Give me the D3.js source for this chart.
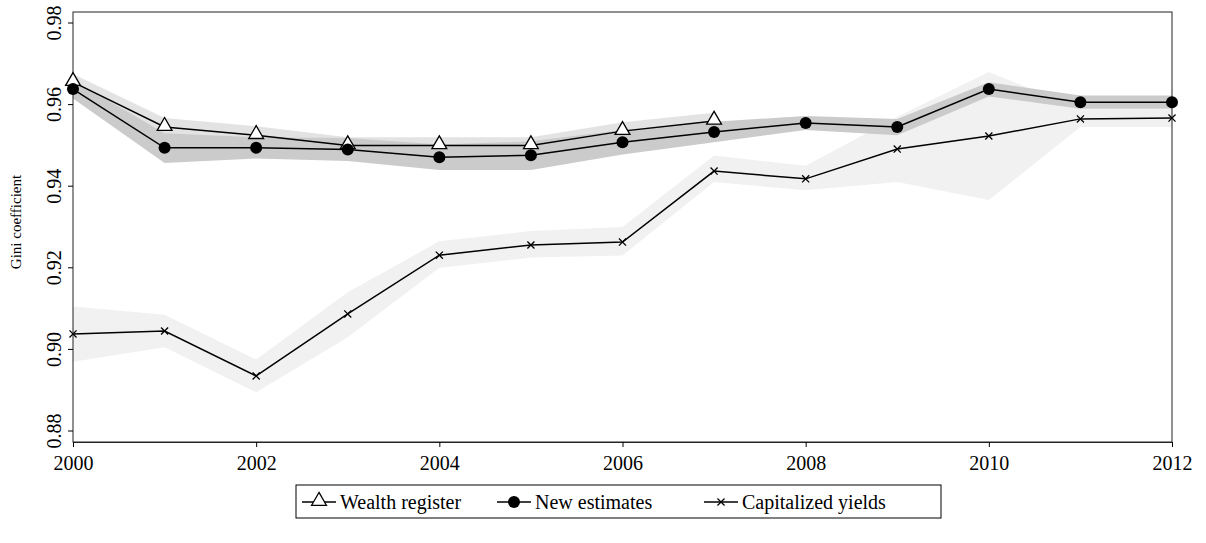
<!DOCTYPE html>
<html><head><meta charset="utf-8">
<script src="https://cdn.jsdelivr.net/npm/d3@7"></script>
<style>body{margin:0;background:#fff}svg text{font-family:"Liberation Serif","DejaVu Serif",serif !important}</style>
</head><body><div id="chart"></div>
<script>
const years = d3.range(2000, 2013);
const wealthYears = d3.range(2000, 2008);
const wealth = [0.9655,0.9545,0.9525,0.9500,0.9500,0.9500,0.9535,0.9560];
const wealthLo = [0.9635,0.9525,0.9505,0.9482,0.9482,0.9482,0.9515,0.9540];
const wealthHi = [0.9675,0.9567,0.9547,0.9520,0.9520,0.9520,0.9557,0.9580];
const newEst = [0.9638,0.9494,0.9494,0.9490,0.9471,0.9476,0.9508,0.9533,0.9555,0.9545,0.9638,0.9606,0.9606];
const newLo = [0.9615,0.9457,0.9468,0.9462,0.9440,0.9440,0.9478,0.9508,0.9538,0.9525,0.9620,0.9590,0.9590];
const newHi = [0.9660,0.9530,0.9520,0.9518,0.9502,0.9510,0.9538,0.9558,0.9572,0.9565,0.9655,0.9622,0.9622];
const capYield = [0.9038,0.9045,0.8935,0.9087,0.9231,0.9256,0.9263,0.9437,0.9418,0.9491,0.9523,0.9565,0.9567];
const capLo = [0.8970,0.9005,0.8895,0.9030,0.9200,0.9225,0.9230,0.9410,0.9390,0.9410,0.9366,0.9545,0.9545];
const capHi = [0.9105,0.9085,0.8975,0.9140,0.9265,0.9290,0.9300,0.9475,0.9450,0.9570,0.9680,0.9590,0.9590];
const yTicks = [0.88,0.90,0.92,0.94,0.96,0.98];
const xTicks = [2000,2002,2004,2006,2008,2010,2012];

const W = 1206, H = 543;
const svg = d3.select("#chart").append("svg").attr("width", W).attr("height", H);
const x = d3.scaleLinear().domain([2000, 2012]).range([73, 1172]);
const y = d3.scaleLinear().domain([0.88, 0.98]).range([431, 23]);
const plotTop = 12, plotBottom = 442;

const area = (xs, lo, hi) => d3.area().x((d, i) => x(xs[i])).y0((d, i) => y(lo[i])).y1((d, i) => y(hi[i]))(xs);
const line = (xs, v) => d3.line().x((d, i) => x(xs[i])).y((d, i) => y(v[i]))(xs);

svg.append("path").attr("d", area(years, capLo, capHi)).attr("fill", "#f1f1f1");
svg.append("path").attr("d", area(wealthYears, wealthLo, wealthHi)).attr("fill", "#e3e3e3");
svg.append("path").attr("d", area(years, newLo, newHi)).attr("fill", "#cbcbcb");

svg.append("rect").attr("x", 73).attr("y", plotTop).attr("width", 1172 - 73).attr("height", plotBottom - plotTop)
  .attr("fill", "none").attr("stroke", "#222").attr("stroke-width", 1);

const serif = "Liberation Serif, DejaVu Serif, serif";
const xAxis = svg.append("g").attr("transform", `translate(0,${plotBottom})`)
  .call(d3.axisBottom(x).tickValues(xTicks).tickFormat(d3.format("d")).tickSize(5))
  .attr("font-family", serif).attr("font-size", 20);
xAxis.select(".domain").attr("stroke", "#222");
xAxis.selectAll("text").attr("fill", "#000").attr("dy", "1em").attr("font-family", serif);

const yAxis = svg.append("g").attr("transform", "translate(73,0)")
  .call(d3.axisLeft(y).tickValues(yTicks).tickFormat(d3.format(".2f")).tickSize(5))
  .attr("font-family", serif).attr("font-size", 20);
yAxis.select(".domain").remove();
yAxis.selectAll(".tick").attr("transform", null);
yAxis.selectAll(".tick line").attr("y1", d => y(d)).attr("y2", d => y(d));
yAxis.selectAll("text").attr("fill", "#000").attr("font-family", serif)
  .attr("text-anchor", "middle").attr("x", 0).attr("y", 0).attr("dy", 0)
  .attr("transform", d => `translate(-12,${y(d)}) rotate(-90)`);

svg.append("text").attr("transform", "translate(21,222) rotate(-90)").attr("text-anchor", "middle")
  .attr("font-size", 15).text("Gini coefficient");

svg.append("path").attr("d", line(years, capYield)).attr("fill", "none").attr("stroke", "#000").attr("stroke-width", 1.5);
svg.append("path").attr("d", line(wealthYears, wealth)).attr("fill", "none").attr("stroke", "#000").attr("stroke-width", 1.5);
svg.append("path").attr("d", line(years, newEst)).attr("fill", "none").attr("stroke", "#000").attr("stroke-width", 1.5);

const tri = d3.symbol().type(d3.symbolTriangle).size(95);
const crossPath = "M-5,0H5M0,-5V5";
capYield.forEach((v, i) => svg.append("path").attr("d", crossPath)
  .attr("transform", `translate(${x(years[i])},${y(v)}) rotate(45)`)
  .attr("fill", "none").attr("stroke", "#000").attr("stroke-width", 1.3));
wealth.forEach((v, i) => svg.append("path").attr("d", tri)
  .attr("transform", `translate(${x(wealthYears[i])},${y(v) - 1})`)
  .attr("fill", "#fff").attr("stroke", "#000").attr("stroke-width", 1.3));
newEst.forEach((v, i) => svg.append("circle").attr("cx", x(years[i])).attr("cy", y(v)).attr("r", 6).attr("fill", "#000"));

// legend
const lg = svg.append("g");
lg.append("rect").attr("x", 296).attr("y", 485).attr("width", 645).attr("height", 33)
  .attr("fill", "#fff").attr("stroke", "#000");
const items = [
  {label: "Wealth register", x: 302, m: "tri"},
  {label: "New estimates", x: 497, m: "dot"},
  {label: "Capitalized yields", x: 704, m: "x"}
];
items.forEach(it => {
  const g = lg.append("g").attr("transform", `translate(${it.x},502)`);
  g.append("line").attr("x1", 0).attr("x2", 34).attr("stroke", "#000").attr("stroke-width", 1.5);
  if (it.m === "tri") g.append("path").attr("d", tri).attr("transform", "translate(17,-1)").attr("fill", "#fff").attr("stroke", "#000").attr("stroke-width", 1.3);
  if (it.m === "dot") g.append("circle").attr("cx", 17).attr("r", 6).attr("fill", "#000");
  if (it.m === "x") g.append("path").attr("d", crossPath).attr("transform", "translate(17,0) rotate(45)").attr("stroke", "#000").attr("stroke-width", 1.3);
  g.append("text").attr("x", 38).attr("dy", "0.35em").attr("font-size", 20).text(it.label);
});
</script></body></html>
